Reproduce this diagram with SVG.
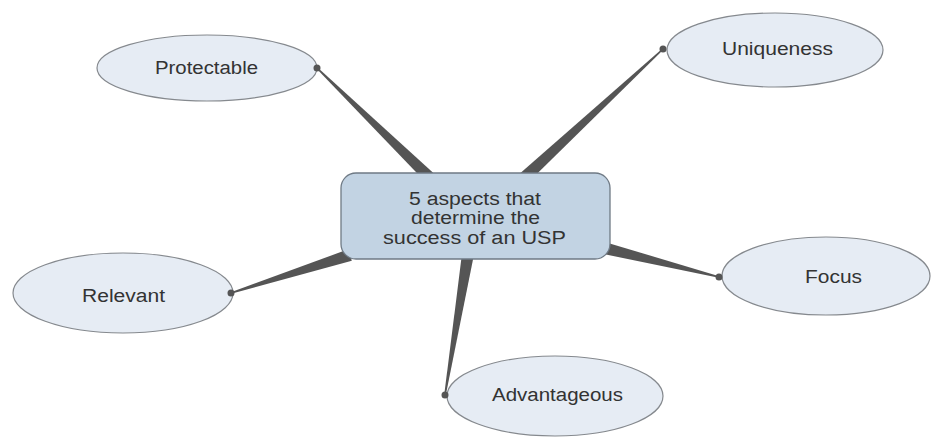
<svg xmlns="http://www.w3.org/2000/svg" width="931" height="437" viewBox="0 0 931 437">
<style>
.bg{fill:#ffffff}
.leaf{fill:#e6ecf4;stroke:#85898e;stroke-width:1.2}
.center{fill:#c2d3e3;stroke:#6f7a85;stroke-width:1.3}
.lbl{font-family:"Liberation Sans",Arial,sans-serif;font-size:18px;fill:#333333;text-anchor:middle}
.wedge{fill:#555555}
.dot{fill:#555555}
</style>
<rect class="bg" x="0" y="0" width="931" height="437"/>
<g id="connectors">
<polygon class="wedge" points="316.4,68.6 317.6,67.4 434.2,173.7 425.8,182.3"/>
<polygon class="wedge" points="662.5,48.4 663.5,49.6 528.1,182.4 519.9,173.6"/>
<polygon class="wedge" points="719.2,276.2 718.8,277.8 602.5,253.8 605.5,242.2"/>
<polygon class="wedge" points="231.2,293.8 230.8,292.2 348.2,249.3 351.8,260.7"/>
<polygon class="wedge" points="445.8,395.1 444.2,394.9 462.1,253 473.9,255"/>
</g>
<g id="node-protectable">
<ellipse class="leaf" cx="207" cy="68" rx="110" ry="33"/>
<circle class="dot" cx="317" cy="68" r="3.5"/>
<text class="lbl" x="206.5" y="74" textLength="103" lengthAdjust="spacingAndGlyphs">Protectable</text>
</g>
<g id="node-uniqueness">
<ellipse class="leaf" cx="775" cy="50" rx="108" ry="37"/>
<circle class="dot" cx="663" cy="49" r="3.5"/>
<text class="lbl" x="777.5" y="55" textLength="111" lengthAdjust="spacingAndGlyphs">Uniqueness</text>
</g>
<g id="node-focus">
<ellipse class="leaf" cx="826" cy="276" rx="104" ry="39"/>
<circle class="dot" cx="719" cy="277" r="3.5"/>
<text class="lbl" x="833.5" y="283" textLength="57" lengthAdjust="spacingAndGlyphs">Focus</text>
</g>
<g id="node-relevant">
<ellipse class="leaf" cx="123" cy="293" rx="110" ry="40"/>
<circle class="dot" cx="231" cy="293" r="3.5"/>
<text class="lbl" x="123.5" y="302" textLength="83" lengthAdjust="spacingAndGlyphs">Relevant</text>
</g>
<g id="node-advantageous">
<ellipse class="leaf" cx="555" cy="396" rx="108" ry="40"/>
<circle class="dot" cx="445" cy="395" r="3.5"/>
<text class="lbl" x="557.5" y="401" textLength="131" lengthAdjust="spacingAndGlyphs">Advantageous</text>
</g>
<g id="node-center">
<rect class="center" x="341" y="173" width="269" height="86" rx="15" ry="15"/>
<text class="lbl" x="475" y="205" textLength="132" lengthAdjust="spacingAndGlyphs">5 aspects that</text>
<text class="lbl" x="475.5" y="224" textLength="129" lengthAdjust="spacingAndGlyphs">determine the</text>
<text class="lbl" x="474.5" y="243.5" textLength="183" lengthAdjust="spacingAndGlyphs">success of an USP</text>
</g>
</svg>
